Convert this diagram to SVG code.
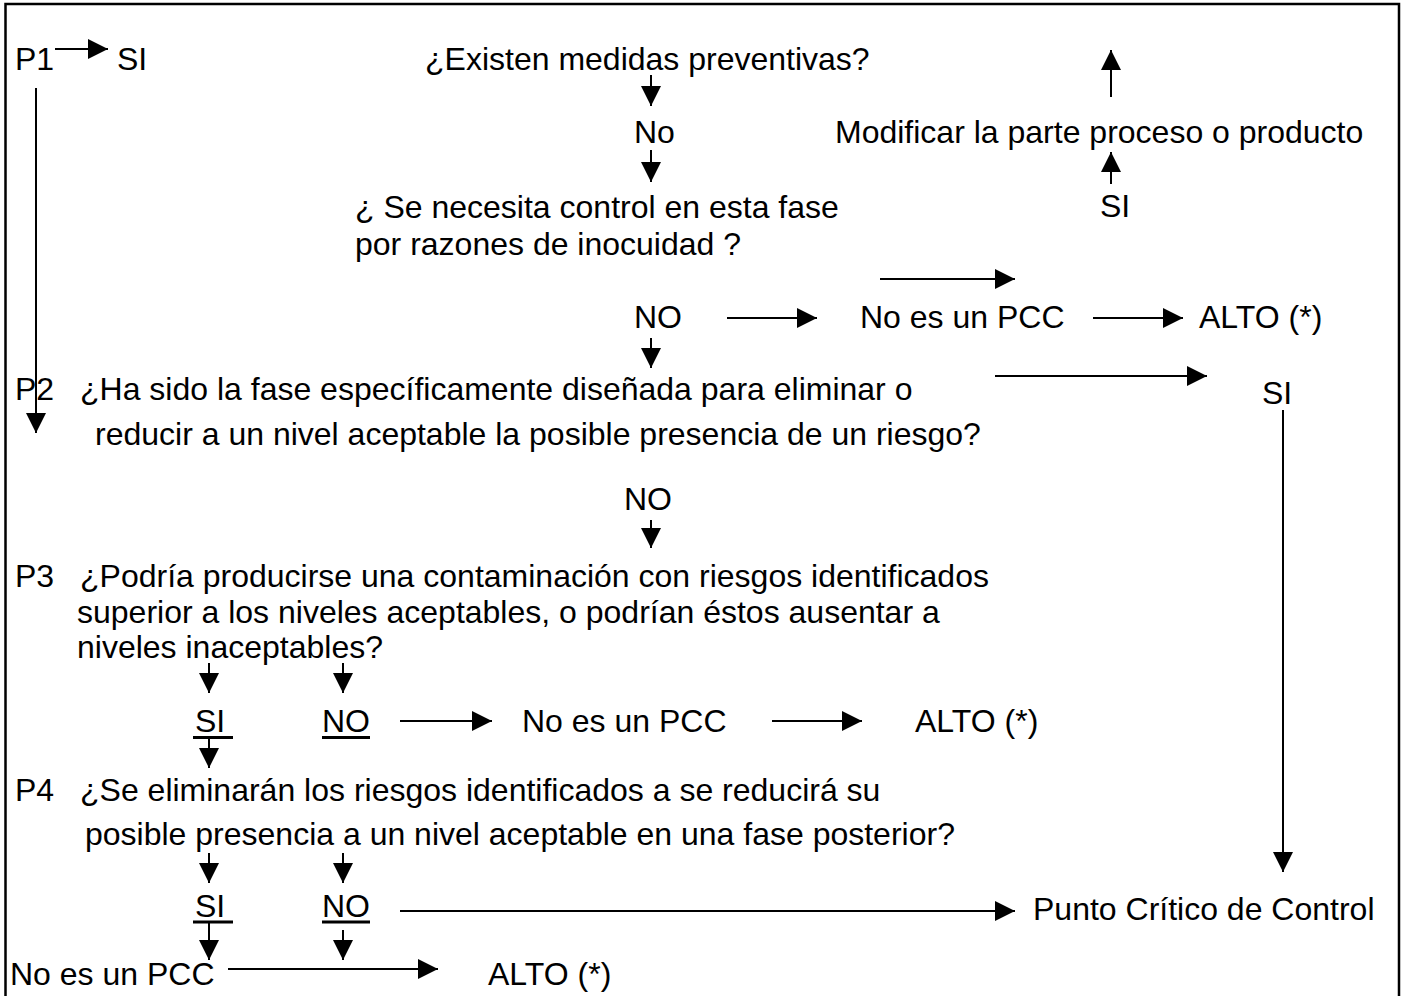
<svg xmlns="http://www.w3.org/2000/svg" width="1403" height="996" viewBox="0 0 1403 996">
<defs>
<style>
text{font-family:"Liberation Sans",Arial,sans-serif;font-size:32px;fill:#000}
.c line{stroke:#000;stroke-width:2;fill:none;marker-end:url(#ah)}
.u{stroke:#000;stroke-width:3}
</style>
<marker id="ah" markerUnits="userSpaceOnUse" markerWidth="20" markerHeight="20" refX="20" refY="10" orient="auto" viewBox="0 0 20 20">
<path d="M0,0 L20,10 L0,20 Z" fill="#000"/>
</marker>
</defs>
<rect width="1403" height="996" fill="#fff"/>
<path d="M5.5,996 V4 H1399 V996" fill="none" stroke="#000" stroke-width="2.5"/>

<g id="p1"><text x="15" y="70">P1</text></g>
<g id="si1"><text x="117" y="70">SI</text></g>
<g id="q-medidas"><text x="425" y="70">¿Existen medidas preventivas?</text></g>
<g id="no1"><text x="634" y="143">No</text></g>
<g id="modificar"><text x="835" y="143">Modificar la parte proceso o producto</text></g>
<g id="q-control"><text x="355" y="218">¿ Se necesita control en esta fase</text><text x="355" y="255">por razones de inocuidad ?</text></g>
<g id="si-mod"><text x="1100" y="217">SI</text></g>
<g id="no2"><text x="634" y="328">NO</text></g>
<g id="nopcc1"><text x="860" y="328">No es un PCC</text></g>
<g id="alto1"><text x="1199" y="328">ALTO (*)</text></g>
<g id="p2"><text x="15" y="400">P2</text></g>
<g id="q-p2"><text x="80" y="400">¿Ha sido la fase específicamente diseñada para eliminar o</text><text x="95" y="445">reducir a un nivel aceptable la posible presencia de un riesgo?</text></g>
<g id="si-p2"><text x="1262" y="404">SI</text></g>
<g id="no3"><text x="624" y="510">NO</text></g>
<g id="p3"><text x="15" y="587">P3</text></g>
<g id="q-p3"><text x="80" y="587">¿Podría producirse una contaminación con riesgos identificados</text><text x="77" y="623">superior a los niveles aceptables, o podrían éstos ausentar a</text><text x="77" y="658">niveles inaceptables?</text></g>
<g id="si-p3"><text x="195" y="732">SI</text><line class="u" x1="193" y1="737.5" x2="233" y2="737.5"/></g>
<g id="no-p3"><text x="322" y="732">NO</text><line class="u" x1="322" y1="737.5" x2="370" y2="737.5"/></g>
<g id="nopcc2"><text x="522" y="732">No es un PCC</text></g>
<g id="alto2"><text x="915" y="732">ALTO (*)</text></g>
<g id="p4"><text x="15" y="801">P4</text></g>
<g id="q-p4"><text x="80" y="801">¿Se eliminarán los riesgos identificados a se reducirá su</text><text x="85" y="845">posible presencia a un nivel aceptable en una fase posterior?</text></g>
<g id="si-p4"><text x="195" y="917">SI</text><line class="u" x1="193" y1="922" x2="233" y2="922"/></g>
<g id="no-p4"><text x="322" y="917">NO</text><line class="u" x1="322" y1="922" x2="370" y2="922"/></g>
<g id="pcc"><text x="1033" y="920">Punto Crítico de Control</text></g>
<g id="nopcc3"><text x="10" y="985">No es un PCC</text></g>
<g id="alto3"><text x="488" y="985">ALTO (*)</text></g>

<g id="connectors" class="c">
<line x1="55" y1="49" x2="108" y2="49"/>
<line x1="36" y1="88" x2="36" y2="433"/>
<line x1="651" y1="75" x2="651" y2="106"/>
<line x1="651" y1="150" x2="651" y2="182"/>
<line x1="1111" y1="97" x2="1111" y2="50"/>
<line x1="1111" y1="184" x2="1111" y2="152"/>
<line x1="880" y1="279" x2="1015" y2="279"/>
<line x1="727" y1="318" x2="817" y2="318"/>
<line x1="1093" y1="318" x2="1183" y2="318"/>
<line x1="651" y1="338" x2="651" y2="368"/>
<line x1="995" y1="376" x2="1207" y2="376"/>
<line x1="1283" y1="410" x2="1283" y2="872"/>
<line x1="651" y1="520" x2="651" y2="548"/>
<line x1="209" y1="663" x2="209" y2="693"/>
<line x1="343" y1="663" x2="343" y2="693"/>
<line x1="209" y1="737" x2="209" y2="768"/>
<line x1="400" y1="721" x2="492" y2="721"/>
<line x1="772" y1="721" x2="862" y2="721"/>
<line x1="209" y1="853" x2="209" y2="883"/>
<line x1="343" y1="853" x2="343" y2="883"/>
<line x1="400" y1="911" x2="1015" y2="911"/>
<line x1="209" y1="922" x2="209" y2="960"/>
<line x1="343" y1="930" x2="343" y2="960"/>
<line x1="228" y1="969" x2="438" y2="969"/>
</g>
</svg>
